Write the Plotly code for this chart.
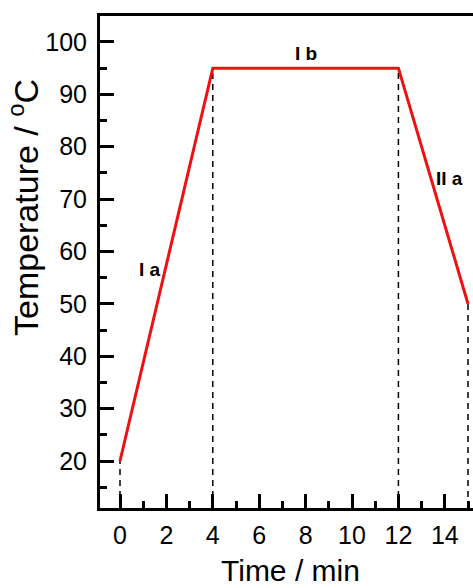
import plotly.graph_objects as go

time_min = [0, 4, 12, 15]
temperature_c = [20, 95, 95, 50]

stage_labels = ["I a", "I b", "II a"]
stage_x = [1.3, 8.0, 14.2]
stage_y = [56.5, 97.8, 74]

x_range = [-0.862, 15.215]
y_range = [11.03, 104.96]

font = "Liberation Sans, Arial, sans-serif"

fig = go.Figure()

# dashed vertical guides from each event down to the x axis
for t, temp in zip(time_min, temperature_c):
    fig.add_trace(go.Scatter(x=[t, t], y=[y_range[0], temp], mode="lines",
                             line=dict(color="black", width=1.5, dash="6px,5px"),
                             showlegend=False, hoverinfo="skip"))

fig.add_trace(go.Scatter(x=time_min, y=temperature_c, mode="lines",
                         line=dict(color="#ee1111", width=3), showlegend=False))

for lab, lx, ly in zip(stage_labels, stage_x, stage_y):
    fig.add_annotation(x=lx, y=ly, text="<b>%s</b>" % lab, showarrow=False,
                       font=dict(family=font, size=19, color="black"))

# axis titles as annotations (y title sits above the axis centre in the reference)
fig.add_annotation(xref="paper", yref="paper", x=0, y=0.5, xshift=-77, yshift=54,
                   text="Temperature / <sup>o</sup>C", textangle=-90, showarrow=False,
                   xanchor="center", yanchor="middle",
                   font=dict(family=font, size=34, color="black"))
fig.add_annotation(xref="paper", yref="paper", x=0.5, y=0, xshift=4, yshift=-62,
                   text="Time / min", showarrow=False,
                   xanchor="center", yanchor="middle",
                   font=dict(family=font, size=30, color="black"))

fig.update_layout(
    width=473, height=588,
    margin=dict(l=100, r=0, t=16, b=80),
    plot_bgcolor="white", paper_bgcolor="white",
    font=dict(family=font, color="black"),
    xaxis=dict(range=x_range, tickvals=[0, 2, 4, 6, 8, 10, 12, 14],
               ticks="inside", ticklen=14, tickwidth=2.5, tickcolor="black",
               minor=dict(tickvals=[1, 3, 5, 7, 9, 11, 13, 15], ticks="inside", ticklen=7,
                          tickwidth=2.5, tickcolor="black"),
               showline=True, linewidth=3, linecolor="black", mirror=True,
               showgrid=False, zeroline=False, ticklabelstandoff=3,
               tickfont=dict(size=25)),
    yaxis=dict(range=y_range, tickvals=[20, 30, 40, 50, 60, 70, 80, 90, 100],
               ticks="inside", ticklen=14, tickwidth=2.5, tickcolor="black",
               minor=dict(tickvals=[15, 25, 35, 45, 55, 65, 75, 85, 95], ticks="inside", ticklen=7,
                          tickwidth=2.5, tickcolor="black"),
               showline=True, linewidth=3, linecolor="black",
               showgrid=False, zeroline=False, ticklabelstandoff=5,
               tickfont=dict(size=25)),
)

fig.write_html("out.html", config={"displayModeBar": False},
               post_script="document.body.style.margin='0';document.body.style.overflow='hidden';")
